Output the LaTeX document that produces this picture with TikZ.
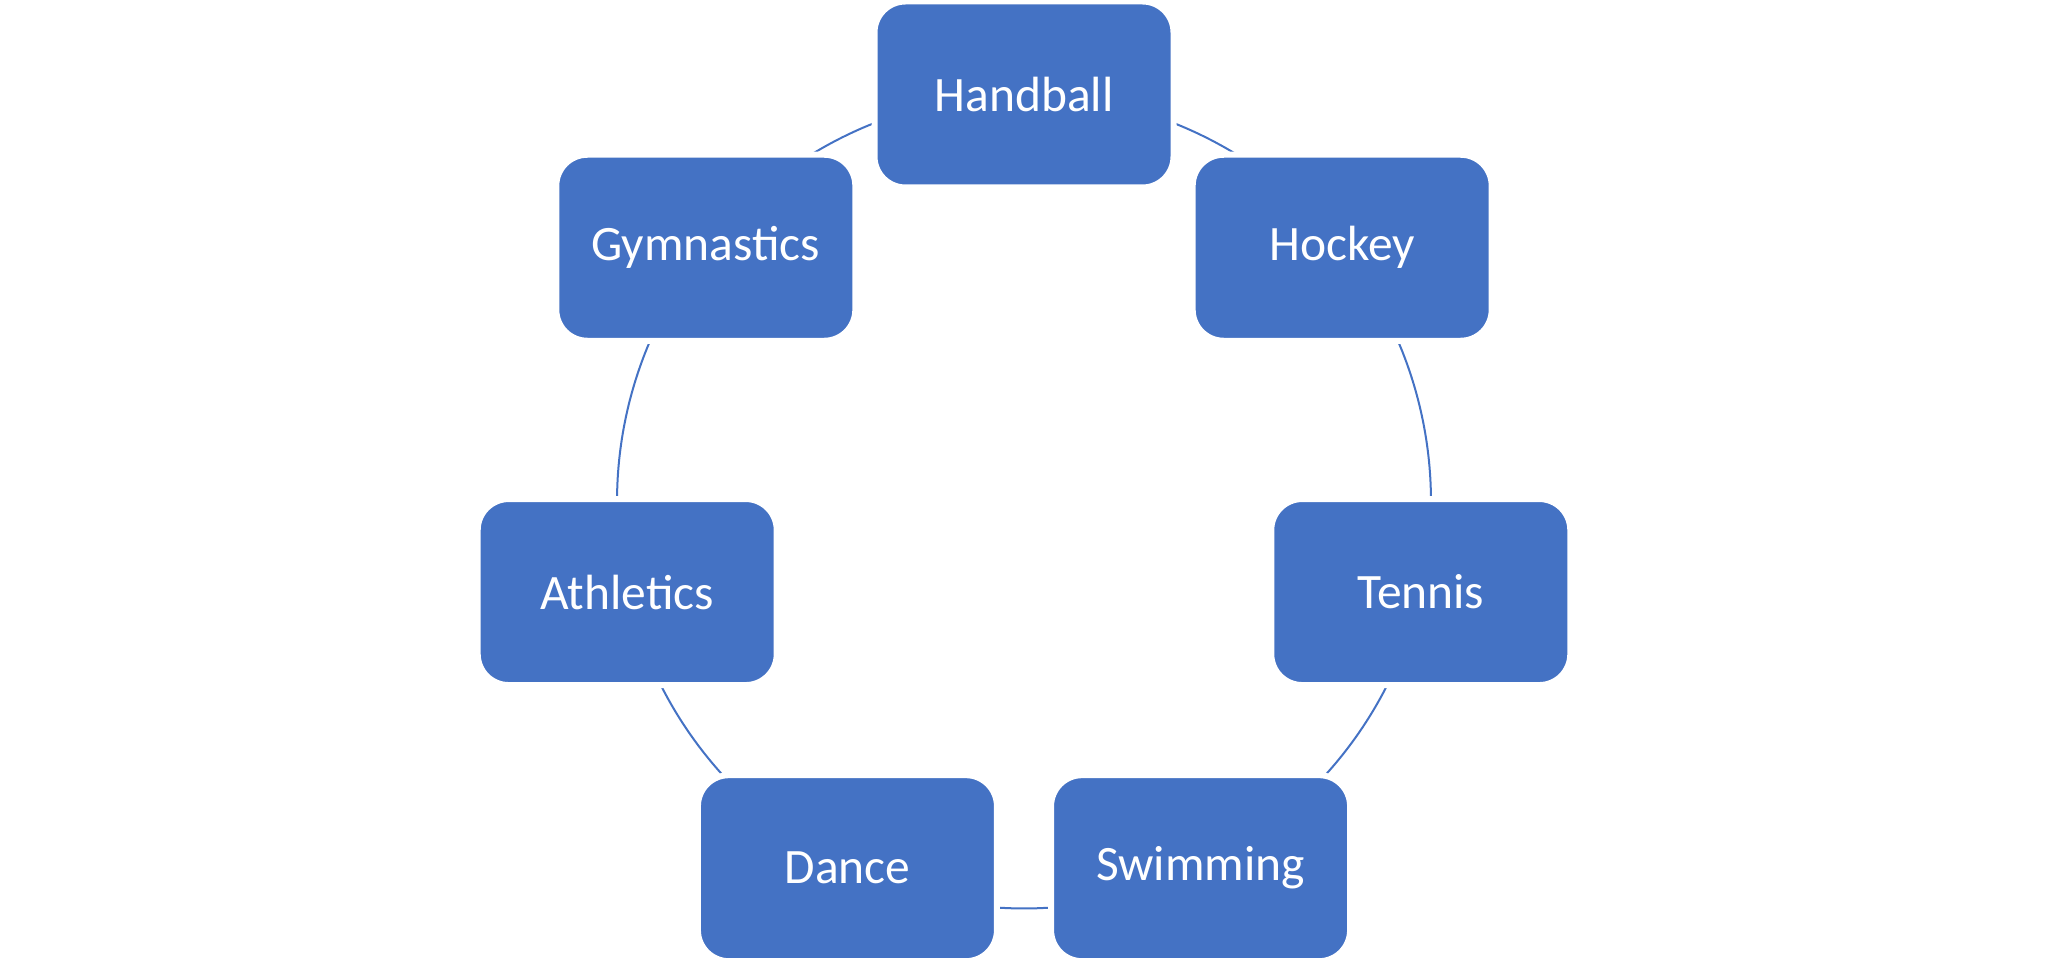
\documentclass[tikz,border=0pt]{standalone}
\usepackage{fontspec}
\setmainfont{Carlito}
\usetikzlibrary{backgrounds,calc}
\definecolor{boxblue}{HTML}{4472C4}
\tikzset{
  sportbox/.style={rectangle, rounded corners=31pt, minimum width=299pt, minimum height=186pt,
    inner sep=0pt, fill=boxblue, draw=white, line width=6pt, text=white,
    font=\fontsize{49.5}{60}\selectfont},
  cycarc/.style={draw=boxblue, line width=2pt}
}
\begin{document}
\begin{tikzpicture}[x=1pt,y=1pt]
\useasboundingbox (0,0) rectangle (2048,964);
\coordinate (c) at (1024,462.5);
\def\R{407}
\node[sportbox] (handball)   at ($(c)+(90:\R)$) {Handball};
\node[sportbox] (hockey)     at ($(c)+(38.571:\R)$) {Hockey};
\node[sportbox] (tennis)     at ($(c)+(-12.857:\R)$) {Tennis};
\node[sportbox] (swimming)   at ($(c)+(-64.286:\R)$) {Swimming};
\node[sportbox] (dance)      at ($(c)+(-115.714:\R)$) {Dance};
\node[sportbox] (athletics)  at ($(c)+(-167.143:\R)$) {Athletics};
\node[sportbox] (gymnastics) at ($(c)+(141.429:\R)$) {Gymnastics};
\begin{scope}[on background layer]
\draw[cycarc] (handball.center) arc[start angle=90, end angle=38.571, radius=\R];
\draw[cycarc] (hockey.center) arc[start angle=38.571, end angle=-12.857, radius=\R];
\draw[cycarc] (tennis.center) arc[start angle=-12.857, end angle=-64.286, radius=\R];
\draw[cycarc] (swimming.center) arc[start angle=-64.286, end angle=-115.714, radius=\R];
\draw[cycarc] (dance.center) arc[start angle=-115.714, end angle=-167.143, radius=\R];
\draw[cycarc] (athletics.center) arc[start angle=-167.143, end angle=-218.571, radius=\R];
\draw[cycarc] (gymnastics.center) arc[start angle=141.429, end angle=90, radius=\R];
\end{scope}
\end{tikzpicture}
\end{document}
